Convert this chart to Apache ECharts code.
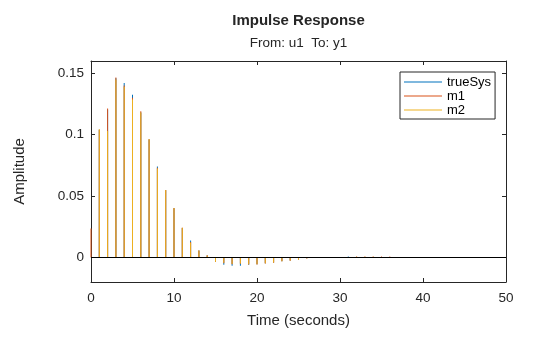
<!DOCTYPE html>
<html>
<head>
<meta charset="utf-8">
<script src="https://cdn.jsdelivr.net/npm/echarts@6/dist/echarts.min.js"></script>
<style>
  html, body { margin: 0; padding: 0; background: #fff; }
  #chart { width: 560px; height: 337px; }
</style>
</head>
<body>
<div id="chart"></div>
<script>
// Sample times (seconds) of the discrete impulse response
const times = [];
for (let k = 0; k <= 50; k++) times.push(k);

// Impulse response amplitudes, one value per sample time
const trueSys = [
  0, 0.1040, 0.1205, 0.1460, 0.1420, 0.1325, 0.1180, 0.0960, 0.0740, 0.0548,
  0.0400, 0.0240, 0.0138, 0.0056, 0.0015, -0.0036, -0.0059, -0.0067, -0.0067, -0.0060,
  -0.0056, -0.0048, -0.0041, -0.0030, -0.0024, -0.0015, -0.0007, -0.0002, 0, 0,
  0, 0.0008, 0.0004, 0.0004, 0.0004, 0.0003, 0.0003, 0, 0, 0,
  0, 0, 0, 0, 0, 0, 0, 0, 0, 0, 0
];
const m1 = [
  0.0235, 0.1040, 0.1214, 0.1465, 0.1400, 0.1300, 0.1190, 0.0962, 0.0730, 0.0549,
  0.0402, 0.0241, 0.0125, 0.0057, 0.0017, -0.0035, -0.0047, -0.0055, -0.0052, -0.0057,
  -0.0057, -0.0049, -0.0043, -0.0031, -0.0026, -0.0017, -0.0008, 0, 0, 0,
  0, 0, 0.0007, 0.0007, 0.0007, 0.0008, 0.0008, 0, 0, 0,
  0, 0, 0, 0, 0, 0, 0, 0, 0, 0, 0
];
const m2 = [
  0, 0.1044, 0.1030, 0.1450, 0.1390, 0.1287, 0.1180, 0.0965, 0.0724, 0.0549,
  0.0403, 0.0241, 0.0119, 0.0057, 0.0016, -0.0035, -0.0043, -0.0053, -0.0050, -0.0056,
  -0.0056, -0.0048, -0.0042, -0.0030, -0.0025, -0.0016, -0.0006, 0, 0, 0,
  0, 0, 0.0006, 0.0006, 0.0006, 0, 0, 0, 0, 0,
  0, 0, 0, 0, 0, 0, 0, 0, 0, 0, 0
];

// Axis ticks
const xTicks = [0, 10, 20, 30, 40, 50];
const yTicks = [0, 0.05, 0.1, 0.15];

const seriesNames = ['trueSys', 'm1', 'm2'];
const seriesColors = ['#0072BD', '#D95319', '#EDB120'];
const seriesValues = [trueSys, m1, m2];

const axisColor = '#262626';
const font = 'Liberation Sans, Arial, Helvetica, sans-serif';

const chart = echarts.init(document.getElementById('chart'), null, { renderer: 'canvas' });

// Each response is drawn as thin stems rising from zero
const series = seriesNames.map((name, i) => ({
  name: name,
  type: 'bar',
  xAxisIndex: 0,
  yAxisIndex: 0,
  barWidth: 1,
  barGap: '-100%',
  itemStyle: { color: seriesColors[i] },
  emphasis: { disabled: true },
  data: times.map((t, k) => [t, seriesValues[i][k]]),
  z: 2 + i
}));

// Zero reference line
series[0].markLine = {
  silent: true,
  symbol: 'none',
  label: { show: false },
  lineStyle: { color: '#000', width: 1, type: 'solid' },
  data: [{ yAxis: 0 }],
  z: 10
};

const xBase = {
  type: 'value', min: 0, max: 50, interval: 10,
  axisLine: { show: true, onZero: false, lineStyle: { color: axisColor, width: 1 } },
  axisTick: { show: true, inside: true, length: 4, lineStyle: { color: axisColor } },
  splitLine: { show: false }
};
const yBase = {
  type: 'value', min: -0.02, max: 0.16,
  axisLine: { show: true, onZero: false, lineStyle: { color: axisColor, width: 1 } },
  axisTick: { show: true, inside: true, length: 4, customValues: yTicks, lineStyle: { color: axisColor } },
  splitLine: { show: false }
};

chart.setOption({
  animation: false,
  textStyle: { fontFamily: font },
  title: [{
    text: 'Impulse Response',
    left: 298.5,
    top: 13,
    textAlign: 'center',
    padding: 0,
    textStyle: { fontSize: 15, fontWeight: 'bold', color: '#262626', fontFamily: font }
  }, {
    text: 'From: u1  To: y1',
    left: 298.5,
    top: 36,
    textAlign: 'center',
    padding: 0,
    textStyle: { fontSize: 13.5, fontWeight: 'normal', color: '#262626', fontFamily: font }
  }],
  legend: {
    data: seriesNames,
    orient: 'vertical',
    left: 400,
    top: 72,
    padding: [3, 4, 2, 4],
    itemGap: 0,
    itemWidth: 38,
    itemHeight: 2,
    icon: 'path://M0,0.5 L38,0.5 L38,1.5 L0,1.5 Z',
    borderColor: '#262626',
    borderWidth: 1,
    borderRadius: 0,
    backgroundColor: '#fff',
    selectedMode: false,
    textStyle: { fontSize: 13, color: '#000', fontFamily: font, lineHeight: 14 }
  },
  grid: { left: 91, right: 54, top: 61, bottom: 55, containLabel: false },
  xAxis: [
    Object.assign({}, xBase, {
      position: 'bottom',
      name: 'Time (seconds)',
      nameLocation: 'middle',
      nameGap: 31,
      nameTextStyle: { fontSize: 15, color: axisColor, fontFamily: font },
      axisLabel: { show: true, margin: 9, fontSize: 13.5, color: axisColor, fontFamily: font,
        customValues: xTicks }
    }),
    Object.assign({}, xBase, { position: 'top', axisLabel: { show: false } })
  ],
  yAxis: [
    Object.assign({}, yBase, {
      position: 'left',
      name: 'Amplitude',
      nameLocation: 'middle',
      nameGap: 64,
      nameTextStyle: { fontSize: 15, color: axisColor, fontFamily: font },
      axisLabel: { show: true, margin: 7, fontSize: 13.5, color: axisColor, fontFamily: font,
        customValues: yTicks }
    }),
    Object.assign({}, yBase, { position: 'right', axisLabel: { show: false } })
  ],
  series: series
});
</script>
</body>
</html>
